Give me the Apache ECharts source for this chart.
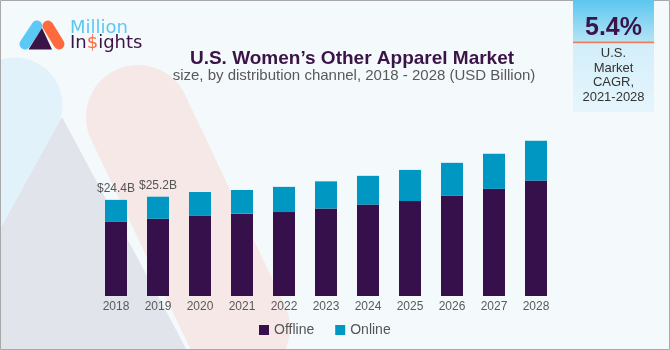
<!DOCTYPE html>
<html><head><meta charset="utf-8">
<script src="https://cdn.jsdelivr.net/npm/echarts@6/dist/echarts.min.js"></script>
<style>html,body{margin:0;padding:0;background:#f4f9fc}#c{width:670px;height:350px}</style>
</head><body><div id="c"></div>
<script>
const years = ['2018','2019','2020','2021','2022','2023','2024','2025','2026','2027','2028'];
const offline = [18.9, 19.6, 20.4, 20.9, 21.3, 22.2, 23.2, 24.1, 25.5, 27.2, 29.3];
const online  = [5.5, 5.6, 6.0, 6.0, 6.4, 6.9, 7.3, 7.9, 8.3, 8.9, 10.1];
const totalLabels = ['$24.4B', '$25.2B'];
const seriesNames = ['Offline', 'Online'];
const titleText = 'U.S. Women\u2019s Other Apparel Market';
const subtitleText = 'size, by distribution channel, 2018 - 2028 (USD Billion)';
const cagrValue = '5.4%';
const cagrLines = ['U.S.', 'Market', 'CAGR,', '2021-2028'];
const logoTop = 'Million';

const FONT = '"Liberation Sans", Arial, sans-serif';
const LOGOFONT = '18px "DejaVu Sans", sans-serif';
const chart = echarts.init(document.getElementById('c'), null, {renderer: 'canvas'});

const graphics = [
  // faint background logo shapes
  {type: 'line', z: 0, silent: true, shape: {x1: 15, y1: 105, x2: -100, y2: 350},
   style: {stroke: '#e2f2fa', lineWidth: 95, lineCap: 'round'}},
  {type: 'polygon', z: 0, silent: true, shape: {points: [[62, 117], [190, 356], [-70, 356]]},
   style: {fill: '#e1e4eb'}},
  {type: 'line', z: 0, silent: true, shape: {x1: 138, y1: 117, x2: 238, y2: 328},
   style: {stroke: '#f5e8e6', lineWidth: 104, lineCap: 'round'}},
  // logo
  {type: 'line', z: 1, shape: {x1: 37, y1: 26, x2: 25, y2: 44},
   style: {stroke: '#5bc8f5', lineWidth: 11, lineCap: 'round'}},
  {type: 'line', z: 1, shape: {x1: 48, y1: 26, x2: 59, y2: 44},
   style: {stroke: '#ff6a3d', lineWidth: 11, lineCap: 'round'}},
  {type: 'polygon', z: 1, shape: {points: [[42, 28], [28.5, 49.5], [52, 49.5]]},
   style: {fill: '#3a1446'}},
  {type: 'text', z: 1, style: {text: logoTop, x: 70, y: 28, fill: '#5bc8f0',
   font: LOGOFONT, verticalAlign: 'middle', align: 'left'}},
  {type: 'text', z: 1, style: {text: '{a|In}{b|$}{a|ights}', x: 70, y: 43, verticalAlign: 'middle', align: 'left',
   rich: {a: {fill: '#3a1446', font: LOGOFONT},
          b: {fill: '#ff6a3d', font: LOGOFONT}}}},
  // titles
  {type: 'text', z: 5, style: {text: titleText, x: 352, y: 59, fill: '#3a1446',
   font: 'bold 19px ' + FONT, align: 'center', verticalAlign: 'middle'}},
  {type: 'text', z: 5, style: {text: subtitleText, x: 354, y: 76, fill: '#595959',
   font: '15px ' + FONT, align: 'center', verticalAlign: 'middle'}},
  // border
  {type: 'rect', z: 8, silent: true, shape: {x: 0.5, y: 0.5, width: 669, height: 349},
   style: {fill: null, stroke: '#a8a8a8', lineWidth: 1}},
  // CAGR box
  {type: 'rect', z: 9, shape: {x: 573, y: 0, width: 81, height: 42},
   style: {fill: new echarts.graphic.LinearGradient(0, 0, 0, 1, [
     {offset: 0, color: '#5cc6ef'}, {offset: 1, color: '#b5e4f7'}])}},
  {type: 'rect', z: 9, shape: {x: 573, y: 42, width: 81, height: 70},
   style: {fill: new echarts.graphic.LinearGradient(0, 0, 0, 1, [
     {offset: 0, color: '#d2eefa'}, {offset: 1, color: '#e6f5fc'}])}},
  {type: 'rect', z: 10, shape: {x: 573, y: 41.5, width: 81, height: 1.8},
   style: {fill: '#f07f5a'}},
  {type: 'text', z: 10, style: {text: cagrValue, x: 613.5, y: 28, fill: '#3a1446',
   font: 'bold 25px ' + FONT, align: 'center', verticalAlign: 'middle'}}
];
const lineYs = [53, 68, 82, 97];
cagrLines.forEach((t, i) => {
  graphics.push({type: 'text', z: 10, style: {text: t, x: 613.5, y: lineYs[i], fill: '#333333',
    font: '13px ' + FONT, align: 'center', verticalAlign: 'middle'}});
});

const option = {
  animation: false,
  backgroundColor: '#f4f9fc',
  textStyle: {fontFamily: FONT},
  grid: {left: 95, right: 113, top: 118.7, bottom: 54},
  legend: {
    data: seriesNames, left: 259, top: 323, padding: 0, icon: 'rect',
    itemWidth: 10, itemHeight: 10, itemGap: 21,
    textStyle: {fontSize: 14, color: '#555555', fontFamily: FONT}
  },
  xAxis: {
    type: 'category', data: years,
    axisLine: {show: false}, axisTick: {show: false},
    axisLabel: {color: '#5a5a5a', fontSize: 12, margin: 5, fontFamily: FONT}
  },
  yAxis: {type: 'value', min: 0, max: 45, show: false, splitLine: {show: false}},
  series: [
    {name: seriesNames[0], type: 'bar', stack: 'total', barWidth: 22, data: offline,
     itemStyle: {color: '#36104a'}},
    {name: seriesNames[1], type: 'bar', stack: 'total', barWidth: 22, data: online,
     itemStyle: {color: '#0097c3'},
     label: {show: true, position: 'top', distance: 5, color: '#555555', fontSize: 12,
       fontFamily: FONT, formatter: p => totalLabels[p.dataIndex] || ''}}
  ],
  graphic: graphics
};
chart.setOption(option);
</script></body></html>
